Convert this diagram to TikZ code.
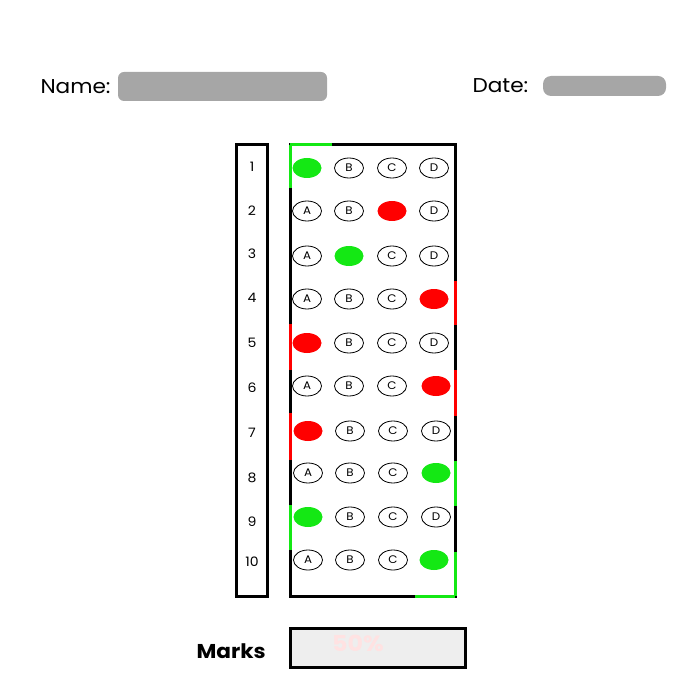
\documentclass[tikz,border=0pt]{standalone}
\usepackage{fontspec}
\setmainfont{Poppins}[FakeStretch=1.08]
\usetikzlibrary{shapes.geometric}
\definecolor{markgreen}{RGB}{20,232,20}
\definecolor{markred}{RGB}{255,0,0}
\definecolor{fieldgray}{RGB}{166,166,166}
\definecolor{markbg}{RGB}{238,238,238}
\definecolor{scorepink}{RGB}{255,226,226}
\tikzset{
  bubble/.style={ellipse, draw, line width=0.8pt, minimum width=29pt, minimum height=20pt, inner sep=0pt, font=\fontsize{11}{11}\selectfont},
  right/.style={bubble, fill=markgreen, draw=none},
  wrong/.style={bubble, fill=markred, draw=none},
  qnum/.style={font=\fontsize{13}{13}\selectfont},
  frame/.style={line width=3pt},
}
\begin{document}
\begin{tikzpicture}[x=1pt,y=-1pt]
\useasboundingbox (0,0) rectangle (700,700);
% header
\node[anchor=west, font=\fontsize{20}{20}\selectfont] (name) at (37,87) {Name:};
\fill[fieldgray, rounded corners=6pt] (118,72) rectangle (327,101);
\node[anchor=west, font=\fontsize{20}{20}\selectfont] (date) at (469,86) {Date:};
\fill[fieldgray, rounded corners=8pt] (543,76) rectangle (666,96);
% frames
\draw[frame] (236,145) rectangle (267,596);
\draw[frame] (290,145) rectangle (455,596);
% edge marks
\draw[frame, markgreen] (290,145) -- (332,145);
\draw[frame, markgreen] (290,145) -- (290,188);
\draw[frame, markred] (455,281) -- (455,325);
\draw[frame, markred] (290,324) -- (290,370);
\draw[frame, markred] (455,370) -- (455,416);
\draw[frame, markred] (290,413) -- (290,460);
\draw[frame, markgreen] (455,461) -- (455,506);
\draw[frame, markgreen] (290,505) -- (290,550);
\draw[frame, markgreen] (455,552) -- (455,596);
\draw[frame, markgreen] (415,596) -- (455,596);
% question numbers
\node[qnum] (n1) at (252,167) {1};
\node[qnum] (n2) at (252,211) {2};
\node[qnum] (n3) at (252,254) {3};
\node[qnum] (n4) at (252,298) {4};
\node[qnum] (n5) at (252,343) {5};
\node[qnum] (n6) at (252,388) {6};
\node[qnum] (n7) at (252,433) {7};
\node[qnum] (n8) at (252,478) {8};
\node[qnum] (n9) at (252,522) {9};
\node[qnum] (n10) at (252,562) {10};
% answers
\node[right] (q1a) at (307,168) {};
\node[bubble] (q1b) at (349,168) {B};
\node[bubble] (q1c) at (392,168) {C};
\node[bubble] (q1d) at (434,168) {D};
\node[bubble] (q2a) at (307,211) {A};
\node[bubble] (q2b) at (349,211) {B};
\node[wrong] (q2c) at (392,211) {};
\node[bubble] (q2d) at (434,211) {D};
\node[bubble] (q3a) at (307,256) {A};
\node[right] (q3b) at (349,256) {};
\node[bubble] (q3c) at (392,256) {C};
\node[bubble] (q3d) at (434,256) {D};
\node[bubble] (q4a) at (307,299) {A};
\node[bubble] (q4b) at (349,299) {B};
\node[bubble] (q4c) at (392,299) {C};
\node[wrong] (q4d) at (434,299) {};
\node[wrong] (q5a) at (307,343) {};
\node[bubble] (q5b) at (349,343) {B};
\node[bubble] (q5c) at (392,343) {C};
\node[bubble] (q5d) at (434,343) {D};
\node[bubble] (q6a) at (307,386) {A};
\node[bubble] (q6b) at (349,386) {B};
\node[bubble] (q6c) at (392,386) {C};
\node[wrong] (q6d) at (436,386) {};
\node[wrong] (q7a) at (308,431) {};
\node[bubble] (q7b) at (350,431) {B};
\node[bubble] (q7c) at (393,431) {C};
\node[bubble] (q7d) at (436,431) {D};
\node[bubble] (q8a) at (308,473) {A};
\node[bubble] (q8b) at (350,473) {B};
\node[bubble] (q8c) at (393,473) {C};
\node[right] (q8d) at (436,473) {};
\node[right] (q9a) at (308,517) {};
\node[bubble] (q9b) at (350,517) {B};
\node[bubble] (q9c) at (393,517) {C};
\node[bubble] (q9d) at (436,517) {D};
\node[bubble] (q10a) at (308,560) {A};
\node[bubble] (q10b) at (350,560) {B};
\node[bubble] (q10c) at (393,560) {C};
\node[right] (q10d) at (434,560) {};
% score
\node[anchor=west, font=\fontsize{20}{20}\selectfont\bfseries] (marks) at (193,651) {Marks};
\draw[frame, fill=markbg] (290,628) rectangle (465,667);
\node[font=\fontsize{22}{22}\selectfont\bfseries, text=scorepink] (score) at (358,643) {50\%};
\end{tikzpicture}
\end{document}
